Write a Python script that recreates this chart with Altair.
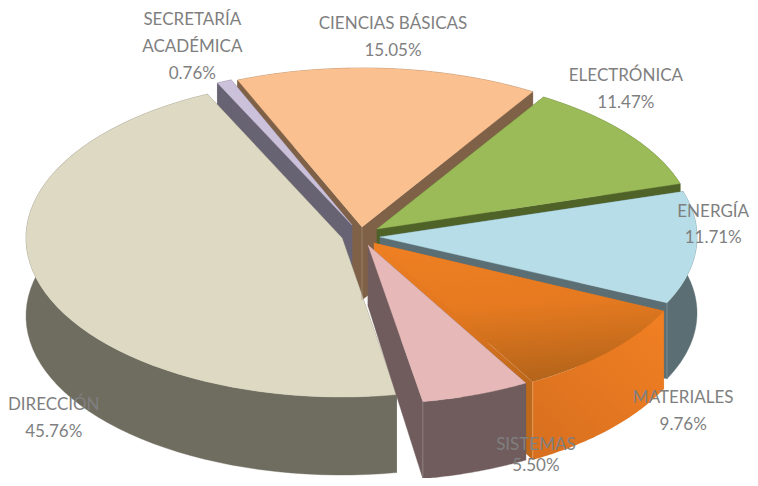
import math
import altair as alt
import pandas as pd

# ---- chart values (clockwise from the first slice) ----
names = ["CIENCIAS BÁSICAS", "ELECTRÓNICA", "ENERGÍA", "MATERIALES", "SISTEMAS", "DIRECCIÓN", "SECRETARÍA\nACADÉMICA"]
values = [15.05, 11.47, 11.71, 9.76, 5.50, 45.76, 0.76]

# ---- layout of the drawing (apex x, apex y, rx, ry, rim depth, apex depth) ----
W, H = 742, 470
start_angle = 112.5
geom = [
    (362, 227, 325, 159, 75, 73),
    (377, 229, 317, 155, 76, 70),
    (380, 237, 317, 155, 76, 75),
    (374, 243, 320, 160, 78, 70),
    (368, 245, 318, 159, 77, 61),
    (342, 238, 316, 159, 78, 78),
    (352, 225, 316, 157, 75, 75),
]
top_colors = ["#FAC090", "#9BBB59", "#B7DDE8", None, "#E6B9B8", "#DDD9C3", "#CCC1DA"]
wall_colors = ["#7F6147", "#4F6228", "#5A6E74", None, "#705C5C", "#6F6D5F", "#686373"]
label_offsets = [(5, -45), (-2, -58), (17, -36), (74, 47), (60, 50), (13, 119), (-32, -61)]
line_gaps = [27, 27, 26, 27, 21, 27, 27]
paint_order = [0, 6, 1, 2, 3, 5, 4]
edge_lines = [(0, "apex", "#A58E7A"), (4, "end", "#9A8A8A"), (3, "end", "#E9A060"), (2, "end", "#8A9CA2")]

mat_top = alt.LinearGradient(gradient="linear", x1=0.35, y1=0, x2=0.5, y2=1, stops=[
    alt.GradientStop(color="#EE7F22", offset=0), alt.GradientStop(color="#E67A20", offset=0.45),
    alt.GradientStop(color="#B4641A", offset=1)])
mat_cut = alt.LinearGradient(gradient="linear", x1=0, y1=0, x2=1, y2=0.6, stops=[
    alt.GradientStop(color="#EE7F22", offset=0), alt.GradientStop(color="#E0761F", offset=0.55),
    alt.GradientStop(color="#BE681B", offset=1)])
mat_wall = alt.LinearGradient(gradient="linear", x1=1, y1=0, x2=0.2, y2=1, stops=[
    alt.GradientStop(color="#F28023", offset=0), alt.GradientStop(color="#D9701F", offset=1)])

x_enc = alt.X("x:Q", axis=None, scale=alt.Scale(domain=[8, 8 + W], nice=False, zero=False))
y_enc = alt.Y("y:Q", axis=None, scale=alt.Scale(domain=[8 + H, 8], nice=False, zero=False))


def poly(points, fill):
    df = pd.DataFrame({"x": [p[0] for p in points], "y": [p[1] for p in points], "i": range(len(points))})
    if isinstance(fill, str):
        mark = alt.Chart(df).mark_line(fill=fill, stroke=fill, strokeWidth=0.4, interpolate="linear-closed")
    else:
        mark = alt.Chart(df).mark_line(fill=fill, strokeWidth=0, interpolate="linear-closed")
    return mark.encode(x=x_enc, y=y_enc, order="i:Q")


# slice angles come from the values
angles = []
a = start_angle
for v in values:
    angles.append((a, a - v * 3.6))
    a -= v * 3.6


def rim(i, n=60):
    ax, ay, rx, ry, d, ad = geom[i]
    t0, t1 = angles[i]
    out = []
    for k in range(n + 1):
        t = math.radians(t0 + (t1 - t0) * k / n)
        out.append((ax + rx * math.cos(t), ay - ry * math.sin(t)))
    return out


layers = []
for i in paint_order:
    ax, ay, rx, ry, d, ad = geom[i]
    r = rim(i)
    wall = wall_colors[i] or mat_wall
    top = top_colors[i] or mat_top
    bottom = [(p[0], p[1] + d) for p in r]
    apex_low = (ax, ay + ad)
    layers.append(poly([(ax, ay), r[0], bottom[0], apex_low], wall_colors[i] or "#E0761F"))
    layers.append(poly([(ax, ay), r[-1], bottom[-1], apex_low], wall_colors[i] or mat_cut))
    layers.append(poly(r + bottom[::-1], wall))
    layers.append(poly([(ax, ay)] + r, top))

# thin light seams on the wall corners
for i, where, color in edge_lines:
    ax, ay, rx, ry, d, ad = geom[i]
    r = rim(i)
    if where == "apex":
        pts = [(ax, ay), (ax, ay + ad)]
    else:
        p = r[0] if where == "start" else r[-1]
        pts = [p, (p[0], p[1] + d)]
    df = pd.DataFrame({"x": [q[0] for q in pts], "y": [q[1] for q in pts], "i": [0, 1]})
    layers.append(alt.Chart(df).mark_line(stroke=color, strokeWidth=0.7).encode(x=x_enc, y=y_enc, order="i:Q"))

# labels
rows = []
for i, (name, v) in enumerate(zip(names, values)):
    mid = rim(i)[30]
    ox, oy = label_offsets[i]
    lines = name.split("\n") + [f"{v:.2f}%"]
    for j, line in enumerate(lines):
        rows.append({"x": mid[0] + ox, "y": mid[1] + oy + j * line_gaps[i], "t": line})
labels = alt.Chart(pd.DataFrame(rows)).mark_text(
    font="Lato", fontSize=17, color="#7F7F7F", align="center", baseline="middle"
).encode(x=x_enc, y=y_enc, text="t:N")
layers.append(labels)

chart = alt.layer(*layers).properties(width=W, height=H, padding=0, background="white",
                                      autosize=alt.AutoSizeParams(type="none")).configure_view(stroke=None)
chart.save("out.html", embed_options={"renderer": "svg", "actions": False})
